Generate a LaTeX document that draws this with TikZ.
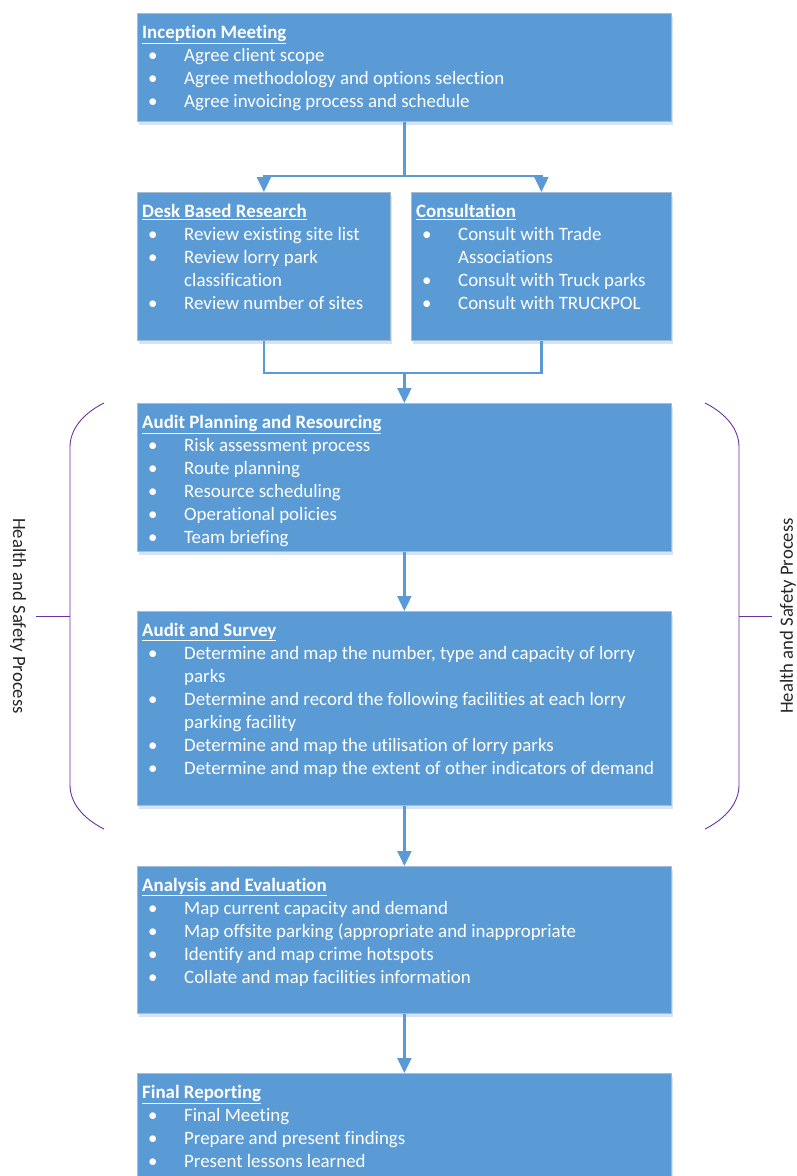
\documentclass[tikz,border=0pt]{standalone}
\usepackage{fontspec}
\setmainfont{Carlito}[Ligatures=NoCommon]
\usepackage{tikz}
\usetikzlibrary{arrows.meta, positioning, calc, shadows}
\definecolor{boxblue}{RGB}{91,155,213}
\definecolor{boxedge}{RGB}{165,188,212}
\definecolor{boxshade}{RGB}{214,227,243}
\definecolor{bracepurple}{RGB}{112,48,160}
\newcommand{\bul}{\hspace{6pt}\textbullet}

\begin{document}
\begin{tikzpicture}[x=1pt, y=-1pt,
    stage/.style={rectangle, draw=boxedge, fill=boxblue, line width=0.8pt, anchor=north west, inner sep=0pt,
        drop shadow={shadow xshift=1.5pt, shadow yshift=-4pt, fill=boxshade, opacity=1}},
    items/.style={anchor=north west, inner sep=0pt, text=white, font=\fontsize{18.9}{23}\selectfont},
    flow/.style={draw=boxblue, line width=2.2pt},
    arr/.style={flow, -{Triangle[width=14pt, length=15pt]}},
    brace/.style={draw=bracepurple, line width=0.9pt},
    side/.style={font=\fontsize{18.7}{22}\selectfont, text=black!85, inner sep=0pt}
]
    \useasboundingbox (0,0) rectangle (796,1176);
    \clip (0,0) rectangle (796,1176);

    % Inception Meeting
    \node[stage, minimum width=534pt, minimum height=108pt] (inc) at (137,13) {};
    \node[items] at ([xshift=5pt, yshift=-9pt]inc.north west) {
        \begin{tabular}{@{}p{42pt}@{}l@{}}
        \multicolumn{2}{@{}l@{}}{\textbf{\underline{Inception Meeting}}} \\
        \bul & Agree client scope \\
        \bul & Agree methodology and options selection \\
        \bul & Agree invoicing process and schedule
        \end{tabular}
    };

    % Desk Based Research
    \node[stage, minimum width=253pt, minimum height=148pt] (desk) at (137,192) {};
    \node[items] at ([xshift=5pt, yshift=-9pt]desk.north west) {
        \begin{tabular}{@{}p{42pt}@{}l@{}}
        \multicolumn{2}{@{}l@{}}{\textbf{\underline{Desk Based Research}}} \\
        \bul & Review existing site list \\
        \bul & Review lorry park \\
             & classification \\
        \bul & Review number of sites
        \end{tabular}
    };

    % Consultation
    \node[stage, minimum width=260pt, minimum height=148pt] (cons) at (411,192) {};
    \node[items] at ([xshift=5pt, yshift=-9pt]cons.north west) {
        \begin{tabular}{@{}p{42pt}@{}l@{}}
        \multicolumn{2}{@{}l@{}}{\textbf{\underline{Consultation}}} \\
        \bul & Consult with Trade \\
             & Associations \\
        \bul & Consult with Truck parks \\
        \bul & Consult with TRUCKPOL
        \end{tabular}
    };

    % Audit Planning and Resourcing
    \node[stage, minimum width=534pt, minimum height=148pt] (plan) at (137,403) {};
    \node[items] at ([xshift=5pt, yshift=-9pt]plan.north west) {
        \begin{tabular}{@{}p{42pt}@{}l@{}}
        \multicolumn{2}{@{}l@{}}{\textbf{\underline{Audit Planning and Resourcing}}} \\
        \bul & Risk assessment process \\
        \bul & Route planning \\
        \bul & Resource scheduling \\
        \bul & Operational policies \\
        \bul & Team briefing
        \end{tabular}
    };

    % Audit and Survey
    \node[stage, minimum width=534pt, minimum height=194pt] (surv) at (137,611) {};
    \node[items] at ([xshift=5pt, yshift=-9pt]surv.north west) {
        \begin{tabular}{@{}p{42pt}@{}l@{}}
        \multicolumn{2}{@{}l@{}}{\textbf{\underline{Audit and Survey}}} \\
        \bul & Determine and map the number, type and capacity of lorry \\
             & parks \\
        \bul & Determine and record the following facilities at each lorry \\
             & parking facility \\
        \bul & Determine and map the utilisation of lorry parks \\
        \bul & Determine and map the extent of other indicators of demand
        \end{tabular}
    };

    % Analysis and Evaluation
    \node[stage, minimum width=534pt, minimum height=147pt] (anal) at (137,866) {};
    \node[items] at ([xshift=5pt, yshift=-9pt]anal.north west) {
        \begin{tabular}{@{}p{42pt}@{}l@{}}
        \multicolumn{2}{@{}l@{}}{\textbf{\underline{Analysis and Evaluation}}} \\
        \bul & Map current capacity and demand \\
        \bul & Map offsite parking (appropriate and inappropriate \\
        \bul & Identify and map crime hotspots \\
        \bul & Collate and map facilities information
        \end{tabular}
    };

    % Final Reporting
    \node[stage, minimum width=534pt, minimum height=130pt] (fin) at (137,1073) {};
    \node[items] at ([xshift=5pt, yshift=-9pt]fin.north west) {
        \begin{tabular}{@{}p{42pt}@{}l@{}}
        \multicolumn{2}{@{}l@{}}{\textbf{\underline{Final Reporting}}} \\
        \bul & Final Meeting \\
        \bul & Prepare and present findings \\
        \bul & Present lessons learned
        \end{tabular}
    };

    % Flow
    \coordinate (split) at ($(inc.south)+(0,54)$);
    \coordinate (merge) at ($(plan.north)+(0,-30)$);
    \draw[flow] (inc.south) -- (split);
    \draw[arr] (split) -| (desk.north);
    \draw[arr] (split) -| (cons.north);
    \draw[flow] (desk.south) |- (merge) -| (cons.south);
    \draw[arr] (merge) -- (plan.north);
    \draw[arr] (plan.south) -- (surv.north);
    \draw[arr] (surv.south) -- (anal.north);
    \draw[arr] (anal.south) -- (fin.north);

    % Health and Safety braces
    \draw[brace] (104,403) .. controls (82,414) and (70,430) .. (70,447) -- (70,785)
        .. controls (70,802) and (82,818) .. (104,829);
    \draw[brace] (70,616) -- (36,616);
    \draw[brace] (705,403) .. controls (727,414) and (739,430) .. (739,447) -- (739,785)
        .. controls (739,802) and (727,818) .. (705,829);
    \draw[brace] (739,616) -- (772,616);
    \node[side, rotate=-90] (hsl) at (18,616) {Health and Safety Process};
    \node[side, rotate=90] (hsr) at (788,616) {Health and Safety Process};

\end{tikzpicture}
\end{document}
